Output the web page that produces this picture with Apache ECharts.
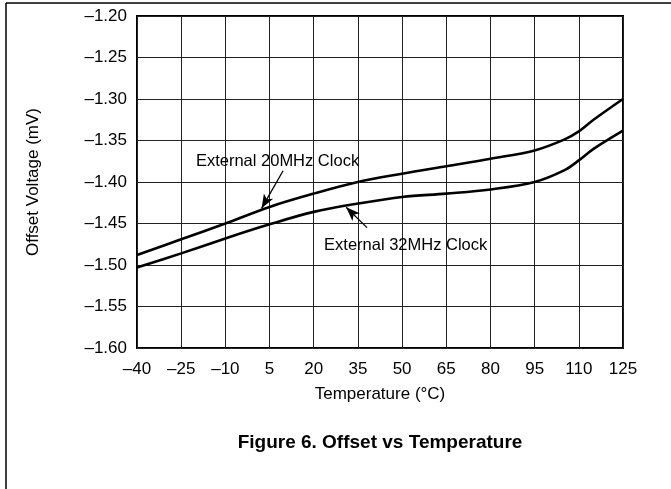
<!DOCTYPE html>
<html>
<head>
<meta charset="utf-8">
<script src="https://cdn.jsdelivr.net/npm/echarts@6/dist/echarts.min.js"></script>
<style>
  html, body { margin: 0; padding: 0; background: #fff; }
  #chart { width: 671px; height: 489px; }
</style>
</head>
<body>
<div id="chart"></div>
<script>
// Offset voltage (mV) versus temperature (°C) for two external clock rates
const temperatures = [-40, -25, -10, 5, 20, 35, 50, 65, 80, 95, 105, 110, 115, 125];
const offset20MHz  = [-1.488, -1.469, -1.450, -1.430, -1.414, -1.400, -1.390, -1.381, -1.372, -1.362, -1.349, -1.339, -1.325, -1.300];
const offset32MHz  = [-1.503, -1.486, -1.468, -1.451, -1.436, -1.426, -1.418, -1.414, -1.409, -1.400, -1.386, -1.374, -1.360, -1.338];

const xTicks = [-40, -25, -10, 5, 20, 35, 50, 65, 80, 95, 110, 125];
const yTicks = [-1.60, -1.55, -1.50, -1.45, -1.40, -1.35, -1.30, -1.25, -1.20];

// Callouts: text anchor and arrow (from -> to) in data coordinates
const callouts = [
  { text: 'External 20MHz Clock', textAt: [-20.0, -1.3750], from: [9.6, -1.3864], to: [2.3, -1.4317] },
  { text: 'External 32MHz Clock', textAt: [23.5, -1.4760], from: [38.1, -1.4550], to: [31.0, -1.4305] }
];

const FONT = '"Liberation Sans", Arial, Helvetica, sans-serif';
const fmtNeg = v => (v < 0 ? '\u2013' : '') + Math.abs(v);

const pairs = (xs, ys) => xs.map((x, i) => [x, ys[i]]);

const chart = echarts.init(document.getElementById('chart'), null, { renderer: 'canvas' });

const option = {
  backgroundColor: '#fff',
  animation: false,
  grid: {
    left: 137, right: 48, top: 16, bottom: 141,
    show: true, borderColor: '#000', borderWidth: 2, backgroundColor: 'transparent'
  },
  xAxis: {
    type: 'value',
    min: xTicks[0], max: xTicks[xTicks.length - 1], interval: 15,
    name: 'Temperature (°C)',
    nameLocation: 'middle', nameGap: 38,
    nameTextStyle: { fontFamily: FONT, fontSize: 17, color: '#000' },
    axisLine: { show: false },
    axisTick: { show: false },
    axisLabel: { fontFamily: FONT, fontSize: 17, color: '#000', margin: 13,
      formatter: v => fmtNeg(v) },
    splitLine: { show: true, lineStyle: { color: '#222', width: 1 } }
  },
  yAxis: {
    type: 'value',
    min: yTicks[0], max: yTicks[yTicks.length - 1], interval: 0.05,
    name: 'Offset Voltage (mV)',
    nameLocation: 'middle', nameGap: 95,
    nameTextStyle: { fontFamily: FONT, fontSize: 17, color: '#000' },
    axisLine: { show: false },
    axisTick: { show: false },
    axisLabel: { fontFamily: FONT, fontSize: 17, color: '#000', margin: 10,
      formatter: v => (v < 0 ? '\u2013' : '') + Math.abs(v).toFixed(2) },
    splitLine: { show: true, lineStyle: { color: '#222', width: 1 } }
  },
  series: [
    {
      name: 'External 20MHz Clock', type: 'line', smooth: 0.35, showSymbol: false,
      data: pairs(temperatures, offset20MHz),
      lineStyle: { color: '#000', width: 2.6 },
      markLine: {
        silent: true, animation: false,
        lineStyle: { color: '#000', width: 1.3, type: 'solid' },
        symbolSize: [8, 14], label: { show: false },
        data: [[{ coord: callouts[0].from, symbol: 'none' }, { coord: callouts[0].to, symbol: 'arrow' }]]
      }
    },
    {
      name: 'External 32MHz Clock', type: 'line', smooth: 0.35, showSymbol: false,
      data: pairs(temperatures, offset32MHz),
      lineStyle: { color: '#000', width: 2.6 },
      markLine: {
        silent: true, animation: false,
        lineStyle: { color: '#000', width: 1.3, type: 'solid' },
        symbolSize: [8, 14], label: { show: false },
        data: [[{ coord: callouts[1].from, symbol: 'none' }, { coord: callouts[1].to, symbol: 'arrow' }]]
      }
    }
  ]
};

chart.setOption(option);

// Figure frame, caption and callout texts
const graphics = [
  { type: 'line', shape: { x1: 6, y1: 3, x2: 671, y2: 3 }, style: { stroke: '#000', lineWidth: 1.5 } },
  { type: 'line', shape: { x1: 6, y1: 3, x2: 6, y2: 489 }, style: { stroke: '#000', lineWidth: 1.5 } },
  { type: 'text', x: 380, y: 443,
    style: { text: 'Figure 6. Offset vs Temperature', font: 'bold 19px ' + FONT, fill: '#000',
      textAlign: 'center', textVerticalAlign: 'middle' } }
];
callouts.forEach(c => {
  const p = chart.convertToPixel({ gridIndex: 0 }, c.textAt);
  graphics.push({ type: 'text', x: p[0], y: p[1],
    style: { text: c.text, font: '16.5px ' + FONT, fill: '#000', textVerticalAlign: 'middle' } });
});
chart.setOption({ graphic: graphics });
</script>
</body>
</html>
